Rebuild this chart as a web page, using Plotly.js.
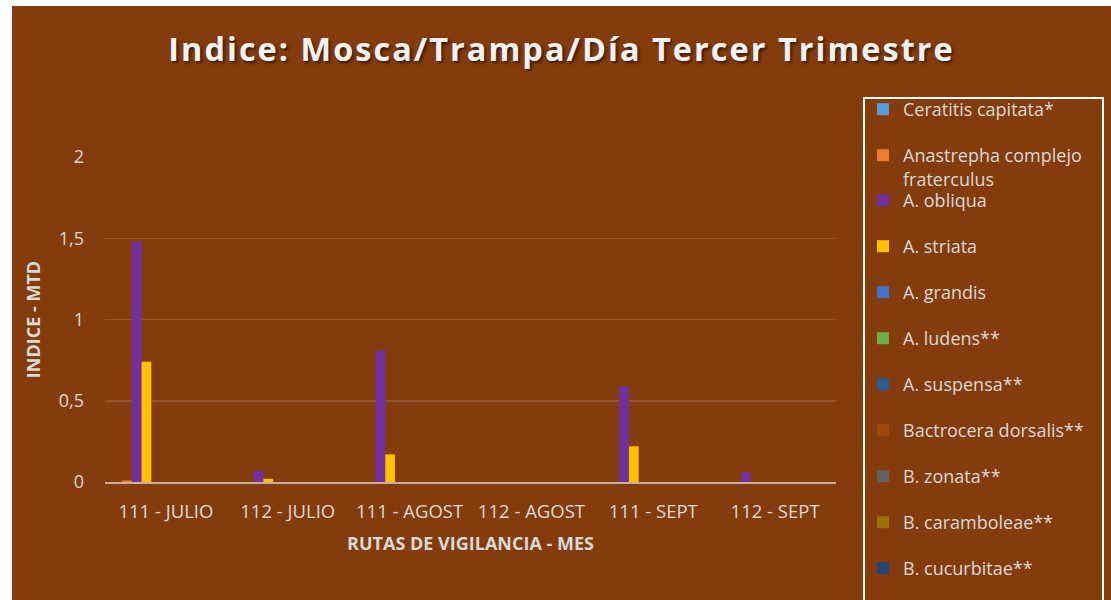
<!DOCTYPE html>
<html>
<head>
<meta charset="utf-8">
<script src="https://cdn.plot.ly/plotly-3.0.1.min.js"></script>
<style>
html, body { margin: 0; padding: 0; background: #ffffff; }
#chart { position: absolute; left: 12px; top: 6px; width: 1099px; height: 594px; }
#chart .gtitle { letter-spacing: 2px; }
</style>
</head>
<body>
<div id="chart"></div>
<script>
// ---- data ----
const categories = ["111 - JULIO", "112 - JULIO", "111 - AGOST", "112 - AGOST", "111 - SEPT", "112 - SEPT"];

const ceratitisCapitata   = [0, 0, 0, 0, 0, 0];
const anastrephaFraterc   = [0.01, 0, 0, 0, 0, 0];
const aObliqua            = [1.48, 0.07, 0.81, 0, 0.59, 0.06];
const aStriata            = [0.74, 0.02, 0.17, 0, 0.22, 0];
const aGrandis            = [0, 0, 0, 0, 0, 0];
const aLudens             = [0, 0, 0, 0, 0, 0];
const aSuspensa           = [0, 0, 0, 0, 0, 0];
const bDorsalis           = [0, 0, 0, 0, 0, 0];
const bZonata             = [0, 0, 0, 0, 0, 0];
const bCarambolae         = [0, 0, 0, 0, 0, 0];
const bCucurbitae         = [0, 0, 0, 0, 0, 0];

const seriesNames = [
  "Ceratitis capitata*",
  "Anastrepha complejo<br>fraterculus",
  "A. obliqua",
  "A. striata",
  "A. grandis",
  "A. ludens**",
  "A. suspensa**",
  "Bactrocera dorsalis**",
  "B. zonata**",
  "B. caramboleae**",
  "B. cucurbitae**"
];
const seriesValues = [ceratitisCapitata, anastrephaFraterc, aObliqua, aStriata, aGrandis,
  aLudens, aSuspensa, bDorsalis, bZonata, bCarambolae, bCucurbitae];
const seriesColors = ["#5B9BD5", "#ED7D31", "#7030A0", "#FFC000", "#4472C4", "#70AD47",
  "#255E91", "#9E480E", "#636363", "#997300", "#264478"];
const yTicks = [0, 0.5, 1, 1.5, 2];

// ---- layout constants ----
const W = 1099, H = 594;
const M = { l: 93, r: 275, t: 151, b: 118 };
const plotW = W - M.l - M.r, plotH = H - M.t - M.b;
const bg = "#843C0C";
const txt = "#D9D9D9";
const fontFam = "'Open Sans', 'Noto Sans', sans-serif";

const traces = seriesNames.map((name, i) => ({
  type: "bar",
  name: name,
  x: categories,
  y: seriesValues[i],
  marker: { color: seriesColors[i], line: { width: 0 } },
  legend: i < 2 ? "legend" : "legend2",
  legendgroup: "g" + i,
  hoverinfo: "skip"
}));

// legend box in paper coords
const px2x = p => (p - M.l) / plotW;
const py2y = p => (H - M.b - p) / plotH;

const legendCommon = {
  bgcolor: "rgba(0,0,0,0)",
  borderwidth: 0,
  font: { family: fontFam, size: 18, color: txt },
  traceorder: "grouped",
  tracegroupgap: 19.6,
  valign: "top",
  maxheight: 2000,
  xref: "container", yref: "container",
  xanchor: "left", yanchor: "top"
};

const layout = {
  width: W, height: H,
  paper_bgcolor: bg,
  plot_bgcolor: bg,
  margin: M,
  separators: ",.",
  barmode: "group",
  bargap: 0.12,
  bargroupgap: 0,
  showlegend: true,
  title: {
    text: "Indice: Mosca/Trampa/Día Tercer Trimestre",
    font: { family: fontFam, size: 32.5, weight: 700, color: "#F2F2F2", shadow: "2px 2px 3px rgba(0,0,0,0.55)" },
    xref: "container", x: 0.5, xanchor: "center",
    yref: "container", y: 1 - 44 / H, yanchor: "middle"
  },
  xaxis: {
    type: "category",
    categoryorder: "array",
    categoryarray: categories,
    showgrid: false,
    showline: true,
    linecolor: "#C8AE9C",
    linewidth: 2,
    ticks: "",
    ticklabelstandoff: 12,
    tickfont: { family: fontFam, size: 18.5, color: txt },
    title: { text: "RUTAS DE VIGILANCIA - MES", font: { family: fontFam, size: 18, weight: 700, color: txt }, standoff: 15 },
    fixedrange: true
  },
  yaxis: {
    range: [0, 2],
    tickvals: yTicks,
    showgrid: true,
    gridcolor: "#93552D",
    gridwidth: 1.5,
    zeroline: false,
    showline: false,
    ticks: "",
    ticklabelstandoff: 20,
    tickfont: { family: fontFam, size: 18, color: txt },
    title: { text: "INDICE - MTD", font: { family: fontFam, size: 18, weight: 700, color: txt }, standoff: 13 },
    fixedrange: true
  },
  legend: Object.assign({}, legendCommon, { x: 851 / W, y: 1 - 85 / H }),
  legend2: Object.assign({}, legendCommon, { x: 851 / W, y: 1 - 176 / H }),
  shapes: [{
    type: "rect", xref: "paper", yref: "paper",
    x0: px2x(852), x1: px2x(1091), y0: py2y(640), y1: py2y(92),
    line: { color: "#FFFFFF", width: 2 },
    fillcolor: "rgba(0,0,0,0)",
    layer: "above"
  }]
};

Plotly.newPlot("chart", traces, layout, { displayModeBar: false, staticPlot: true });
</script>
</body>
</html>
